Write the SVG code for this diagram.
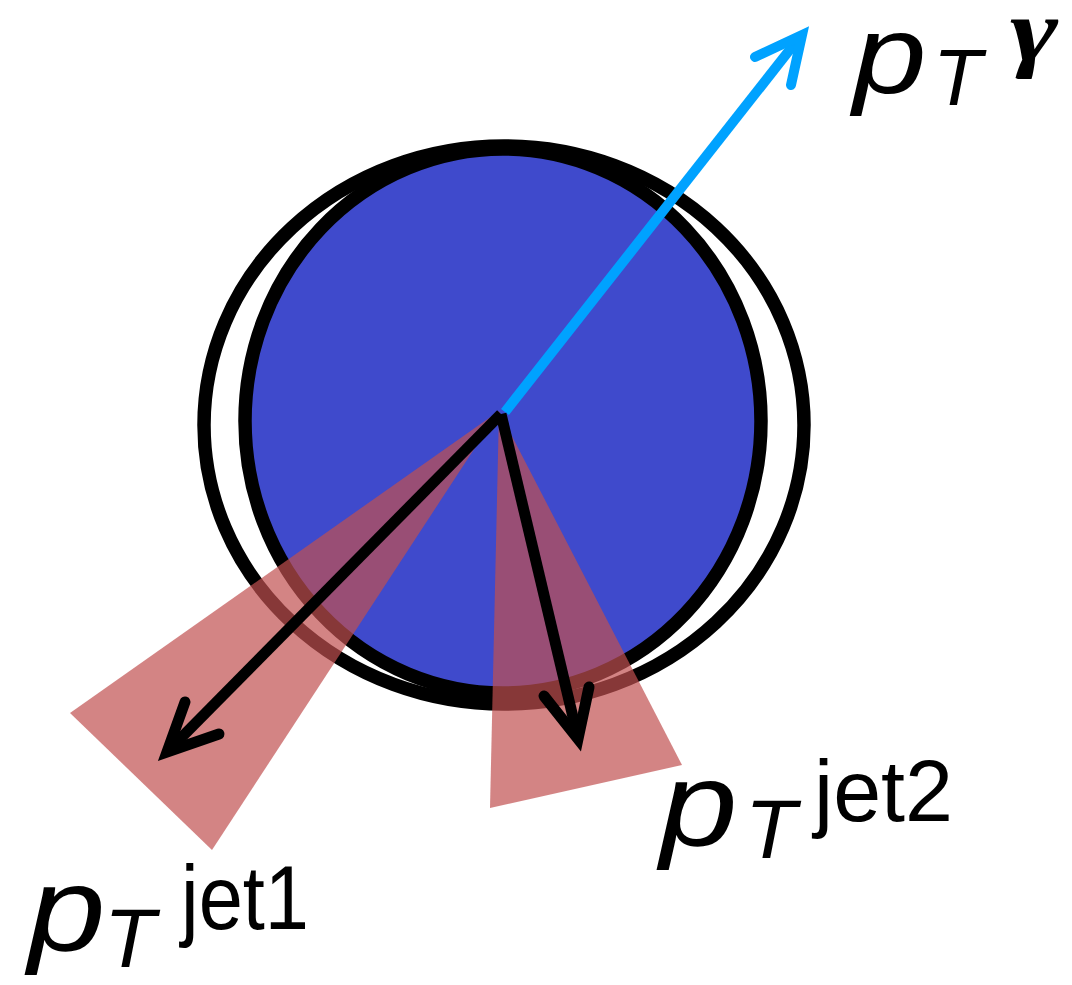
<svg xmlns="http://www.w3.org/2000/svg" width="1072" height="985" viewBox="0 0 1072 985">
<style>
.ring{fill:none;stroke:#000;stroke-width:13.5}
.cone{fill:rgb(193,80,80);fill-opacity:0.7}
.blk{fill:none;stroke:#000;stroke-width:11;stroke-linejoin:miter;stroke-miterlimit:10}
.blu{fill:none;stroke:#00a2ff;stroke-width:10;stroke-linejoin:miter;stroke-miterlimit:10}
.head{stroke-linecap:round}
.p{font-family:"Liberation Sans",Arial,sans-serif;font-style:italic;fill:#000}
.j{font-family:"Liberation Sans",Arial,sans-serif;fill:#000}
.g{font-family:"Liberation Serif","Times New Roman",serif;font-style:italic;font-weight:bold;fill:#000}
</style>
<rect width="1072" height="985" fill="#fff"/>
<g id="outer-ring"><ellipse cx="504" cy="425" rx="300" ry="279" class="ring"/></g>
<g id="inner-disc"><ellipse cx="503" cy="421" rx="258" ry="272" fill="#3f4acc" stroke="#000" stroke-width="13.5"/></g>
<g id="connectors">
<g id="photon-arrow">
<line x1="505" y1="412" x2="799" y2="38" class="blu"/>
<polyline points="755,57 802,35 791,85" class="blu head"/>
</g>
<g id="cone-jet1"><polygon points="499,411 70,713 212,850" class="cone"/></g>
<g id="cone-jet2"><polygon points="499,411 490,808 682,765" class="cone"/></g>
<g id="jet1-arrow">
<line x1="501" y1="414" x2="171" y2="748" class="blk"/>
<polyline points="185,702 167,752 219,734" class="blk head"/>
</g>
<g id="jet2-arrow">
<line x1="501" y1="414" x2="577" y2="734" class="blk"/>
<polyline points="544,696 578,739 589,687" class="blk head"/>
</g>
</g>
<g id="label-photon">
<text transform="translate(853,93) scale(1.18,1)" font-size="112" class="p">p</text>
<text x="933" y="105" font-size="80" class="p">T</text>
<text transform="translate(1010,60) scale(1.32,1)" font-size="88" class="g">γ</text>
</g>
<g id="label-jet1">
<text transform="translate(28,950) scale(1.18,1)" font-size="118" class="p">p</text>
<text x="104" y="967" font-size="84" class="p">T</text>
<text x="181" y="929" font-size="90" class="j" textLength="128" lengthAdjust="spacingAndGlyphs">jet1</text>
</g>
<g id="label-jet2">
<text transform="translate(660,845) scale(1.18,1)" font-size="118" class="p">p</text>
<text x="745" y="858" font-size="84" class="p">T</text>
<text x="814" y="821" font-size="88" class="j" textLength="139" lengthAdjust="spacingAndGlyphs">jet2</text>
</g>
</svg>
